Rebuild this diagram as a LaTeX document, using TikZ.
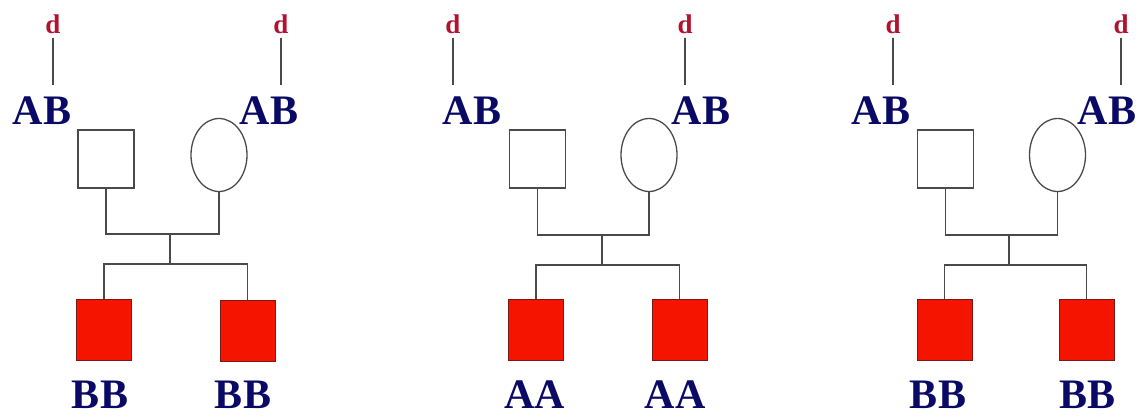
\documentclass[tikz,border=0pt]{standalone}
\usepackage{fontspec}
\setmainfont{Liberation Serif}
\usetikzlibrary{shapes.geometric}
\definecolor{navy}{HTML}{0A0A66}
\definecolor{dred}{HTML}{B3122E}
\definecolor{lgray}{HTML}{4A4A4A}
\definecolor{affred}{HTML}{F51400}
\definecolor{affedge}{HTML}{7A1A14}
\tikzset{
  male/.style={draw=lgray, line width=1.3pt, minimum width=56pt, minimum height=58pt, inner sep=0pt},
  female/.style={ellipse, draw=lgray, line width=1.3pt, minimum width=56pt, minimum height=73pt, inner sep=0pt},
  affected/.style={draw=affedge, fill=affred, line width=1pt, minimum width=55pt, minimum height=61pt, inner sep=0pt},
  geno/.style={text=navy, inner sep=0pt, font=\fontsize{42}{42}\selectfont\bfseries},
  dlab/.style={text=dred, inner sep=0pt, font=\fontsize{27}{27}\selectfont\bfseries},
  conn/.style={draw=lgray, line width=1.3pt},
}
\begin{document}
\begin{tikzpicture}[x=1pt,y=-1pt]
\useasboundingbox (0,0) rectangle (1140,417);
% ---------- pedigree 1 ----------
\node[dlab] (dL1) at (53,24) {d};
\node[dlab] (dR1) at (281,24) {d};
\node[geno] (abL1) at (42,111) {AB};
\node[geno] (abR1) at (269,111) {AB};
\node[male] (m1) at (106,159) {};
\node[female] (f1) at (219,155) {};
\coordinate (mar1) at (170,234);
\coordinate (sib1) at (170,264);
\node[affected] (c1a) at (104,330) {};
\node[affected] (c1b) at (247.5,330.5) {};
\node[geno] (g1a) at (100,395) {BB};
\node[geno] (g1b) at (243,395) {BB};
\draw[conn, shorten <=4pt, shorten >=12pt] (dL1.south) -- (dL1.south |- abL1.north);
\draw[conn, shorten <=4pt, shorten >=12pt] (dR1.south) -- (dR1.south |- abR1.north);
\draw[conn] (m1.south) -- (m1.south |- mar1) -| (f1.south);
\draw[conn] (mar1) -- (sib1);
\draw[conn] (c1a.north) |- (sib1) -| (c1b.north);
% ---------- pedigree 2 ----------
\node[dlab] (dL2) at (453,24) {d};
\node[dlab] (dR2) at (685,24) {d};
\node[geno] (abL2) at (472,111) {AB};
\node[geno] (abR2) at (701,111) {AB};
\node[male] (m2) at (537.5,159) {};
\node[female] (f2) at (649,155) {};
\coordinate (mar2) at (602,235);
\coordinate (sib2) at (602,265);
\node[affected] (c2a) at (536,330) {};
\node[affected] (c2b) at (679.5,330) {};
\node[geno] (g2a) at (535,395) {AA};
\node[geno] (g2b) at (675,395) {AA};
\draw[conn, shorten <=4pt, shorten >=12pt] (dL2.south) -- (dL2.south |- abL2.north);
\draw[conn, shorten <=4pt, shorten >=12pt] (dR2.south) -- (dR2.south |- abR2.north);
\draw[conn] (m2.south) -- (m2.south |- mar2) -| (f2.south);
\draw[conn] (mar2) -- (sib2);
\draw[conn] (c2a.north) |- (sib2) -| (c2b.north);
% ---------- pedigree 3 ----------
\node[dlab] (dL3) at (893,24) {d};
\node[dlab] (dR3) at (1121,24) {d};
\node[geno] (abL3) at (881,111) {AB};
\node[geno] (abR3) at (1107,111) {AB};
\node[male] (m3) at (945.5,159) {};
\node[female] (f3) at (1057.5,155) {};
\coordinate (mar3) at (1009,235);
\coordinate (sib3) at (1009,265);
\node[affected] (c3a) at (944.5,330) {};
\node[affected] (c3b) at (1086.5,330) {};
\node[geno] (g3a) at (938,395) {BB};
\node[geno] (g3b) at (1087,395) {BB};
\draw[conn, shorten <=4pt, shorten >=12pt] (dL3.south) -- (dL3.south |- abL3.north);
\draw[conn, shorten <=4pt, shorten >=12pt] (dR3.south) -- (dR3.south |- abR3.north);
\draw[conn] (m3.south) -- (m3.south |- mar3) -| (f3.south);
\draw[conn] (mar3) -- (sib3);
\draw[conn] (c3a.north) |- (sib3) -| (c3b.north);
\end{tikzpicture}
\end{document}
